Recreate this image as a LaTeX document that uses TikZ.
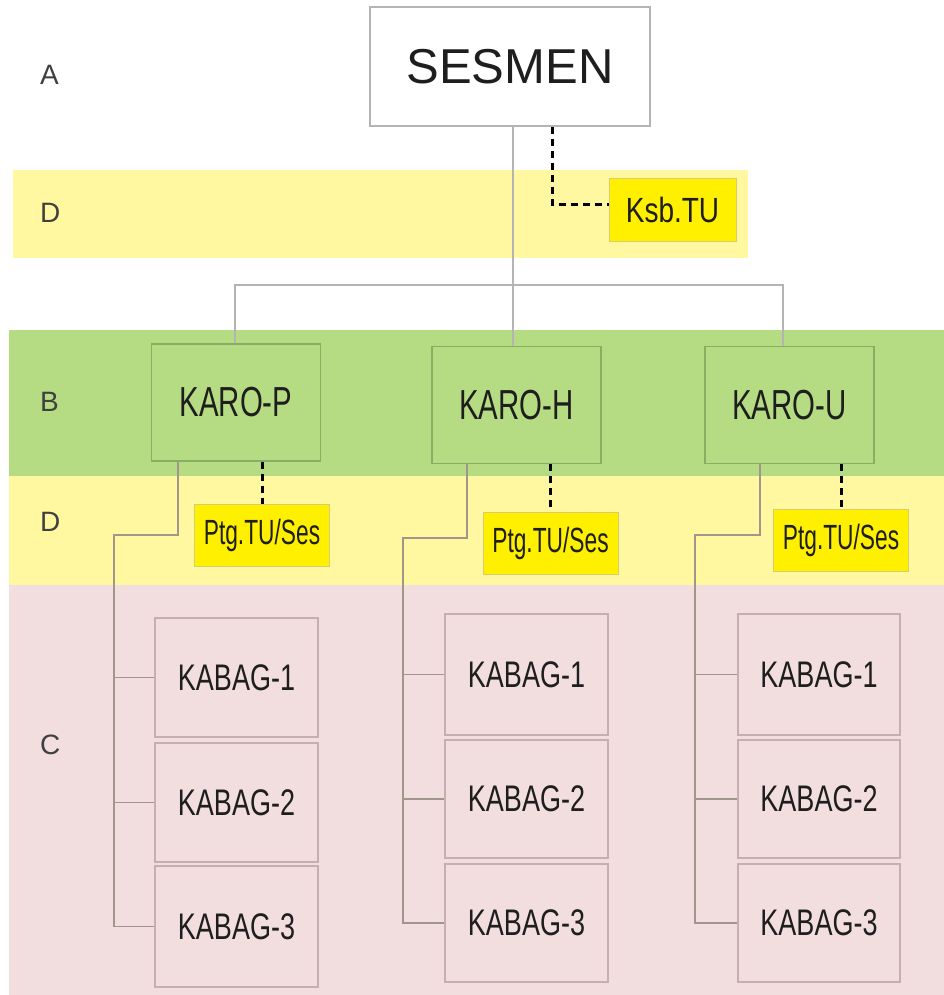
\documentclass[tikz,border=0pt]{standalone}
\usepackage{fontspec}
\usepackage{graphicx}
\setmainfont{Liberation Sans}
\newcommand{\nrw}[2]{\scalebox{#1}[1]{#2}}
\definecolor{bandY}{RGB}{255,248,160}
\definecolor{bandG}{RGB}{181,220,131}
\definecolor{bandP}{RGB}{242,222,222}
\definecolor{boxY}{RGB}{255,240,0}
\definecolor{edgeG}{RGB}{135,175,100}
\definecolor{edgeP}{RGB}{200,175,175}
\definecolor{edgeY}{RGB}{215,205,110}
\definecolor{lineGr}{RGB}{180,180,180}
\definecolor{treeC}{RGB}{160,150,140}
\definecolor{txt}{RGB}{30,30,30}
\tikzset{
  band/.style={fill=#1, draw=none},
  sesbox/.style={draw=lineGr, fill=white, line width=1.2pt, minimum width=280pt, minimum height=119pt, text=txt, font=\fontsize{49}{49}\selectfont, inner sep=0pt},
  karobox/.style={draw=edgeG, fill=bandG, line width=1.2pt, minimum width=169pt, minimum height=117pt, text=txt, font=\fontsize{42}{42}\selectfont, inner sep=0pt},
  tubox/.style={draw=edgeY, fill=boxY, line width=1pt, minimum width=135pt, minimum height=62pt, text=txt, font=\fontsize{35}{35}\selectfont, inner sep=0pt},
  kabox/.style={draw=edgeP, fill=bandP, line width=1.2pt, minimum width=163pt, minimum height=119pt, text=txt, font=\fontsize{37}{37}\selectfont, inner sep=0pt},
  lvl/.style={anchor=west, text=txt!85, font=\fontsize{28}{28}\selectfont, inner sep=0pt},
  conn/.style={draw=lineGr, line width=1.6pt},
  tree/.style={draw=treeC, line width=1.3pt},
  dashc/.style={draw=black, line width=3pt, dash pattern=on 7pt off 5pt}
}
\begin{document}
\begin{tikzpicture}[x=1pt,y=-1pt]
\useasboundingbox (0,0) rectangle (944,995);
\fill[white] (0,0) rectangle (944,995);
% bands
\fill[band=bandY] (13,170) rectangle (748,258);
\fill[band=bandG] (9,330) rectangle (944,476);
\fill[band=bandY] (9,476) rectangle (944,585);
\fill[band=bandP] (9,585) rectangle (944,995);
% level labels
\node[lvl] (lA) at (40,75) {A};
\node[lvl] (lD1) at (40,213) {D};
\node[lvl] (lB) at (40,402) {B};
\node[lvl] (lD2) at (40,522) {D};
\node[lvl] (lC) at (40,745) {C};
% boxes
\node[sesbox] (ses) at (510,66.5) {SESMEN};
\node[tubox, minimum width=127pt] (ksb) at (672.5,210) {\nrw{0.8}{Ksb.TU}};
\node[karobox] (karoP) at (236,402.5) {\nrw{0.7}{KARO-P}};
\node[karobox] (karoH) at (516.5,405) {\nrw{0.7}{KARO-H}};
\node[karobox] (karoU) at (789.5,405) {\nrw{0.7}{KARO-U}};
\node[tubox] (ptgP) at (262,535.5) {\nrw{0.65}{Ptg.TU/Ses}};
\node[tubox] (ptgH) at (550.5,543) {\nrw{0.65}{Ptg.TU/Ses}};
\node[tubox] (ptgU) at (841,540.5) {\nrw{0.65}{Ptg.TU/Ses}};
\node[kabox] (kP1) at (236.5,677.5) {\nrw{0.73}{KABAG-1}};
\node[kabox] (kP2) at (236.5,802.5) {\nrw{0.73}{KABAG-2}};
\node[kabox, minimum height=121pt] (kP3) at (236.5,926.5) {\nrw{0.73}{KABAG-3}};
\node[kabox, minimum height=121pt] (kH1) at (526.5,674.5) {\nrw{0.73}{KABAG-1}};
\node[kabox, minimum height=118pt] (kH2) at (526.5,799) {\nrw{0.73}{KABAG-2}};
\node[kabox, minimum height=118pt] (kH3) at (526.5,923) {\nrw{0.73}{KABAG-3}};
\node[kabox, minimum width=162pt, minimum height=121pt] (kU1) at (819,674.5) {\nrw{0.73}{KABAG-1}};
\node[kabox, minimum width=162pt, minimum height=118pt] (kU2) at (819,799) {\nrw{0.73}{KABAG-2}};
\node[kabox, minimum width=162pt, minimum height=118pt] (kU3) at (819,923) {\nrw{0.73}{KABAG-3}};
% main connectors
\coordinate (jP) at (235,285);
\coordinate (jH) at (513,285);
\coordinate (jU) at (783,285);
\draw[conn] (ses.south -| jH) -- (karoH.north -| jH);
\draw[conn] (jP |- karoP.north) -- (jP) -- (jU) -- (jU |- karoU.north);
% dashed staff lines
\coordinate (kc) at (552,204);
\draw[dashc] (kc |- ses.south) -- (kc) -- (kc -| ksb.west);
\draw[dashc] (karoP.south -| ptgP.north) -- (ptgP.north);
\draw[dashc] (karoH.south -| ptgH.north) -- (ptgH.north);
\draw[dashc] (karoU.south -| ptgU.north) -- (ptgU.north);
% trees
\coordinate (tP) at (178,535); \coordinate (vP) at (114,535);
\coordinate (tH) at (467,538); \coordinate (vH) at (403,538);
\coordinate (tU) at (760,535); \coordinate (vU) at (695,535);
\draw[tree] (karoP.south -| tP) -- (tP) -- (vP) -- (vP |- kP3.west) -- (kP3.west);
\draw[tree] (vP |- kP1.west) -- (kP1.west);
\draw[tree] (vP |- kP2.west) -- (kP2.west);
\draw[tree] (karoH.south -| tH) -- (tH) -- (vH) -- (vH |- kH3.west) -- (kH3.west);
\draw[tree] (vH |- kH1.west) -- (kH1.west);
\draw[tree] (vH |- kH2.west) -- (kH2.west);
\draw[tree] (karoU.south -| tU) -- (tU) -- (vU) -- (vU |- kU3.west) -- (kU3.west);
\draw[tree] (vU |- kU1.west) -- (kU1.west);
\draw[tree] (vU |- kU2.west) -- (kU2.west);
\end{tikzpicture}
\end{document}
